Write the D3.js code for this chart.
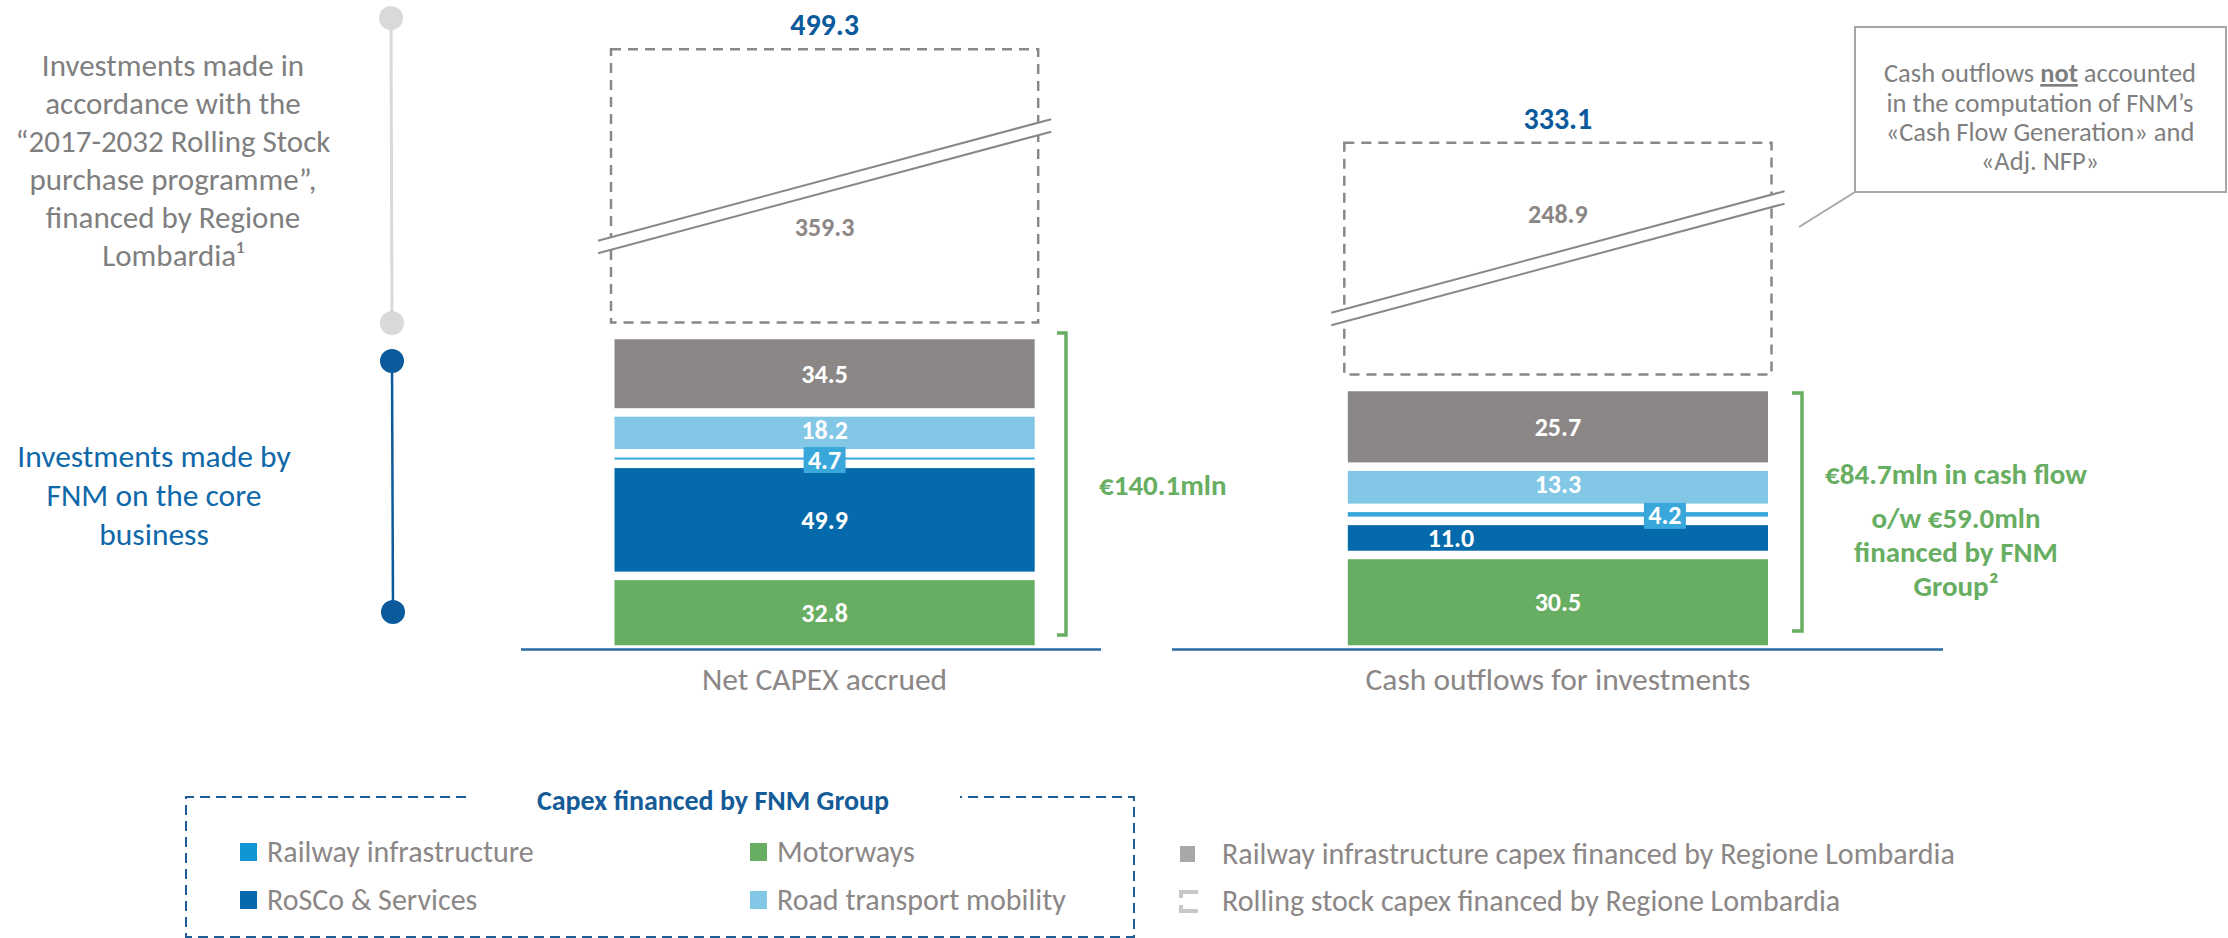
<!DOCTYPE html>
<html>
<head>
<meta charset="utf-8">
<script src="https://cdn.jsdelivr.net/npm/d3@7"></script>
<style>
body { margin: 0; background: #fff; }
svg { display: block; }
</style>
</head>
<body>
<div id="chart"></div>
<script>
// ---- data ----
var categories = ["Net CAPEX accrued", "Cash outflows for investments"];
var segmentKeys = ["Motorways", "RoSCo & Services", "Railway infrastructure",
	"Road transport mobility", "Regione railway infrastructure"];
var motorways = [32.8, 30.5];
var roscoServices = [49.9, 11.0];
var railwayInfra = [4.7, 4.2];
var roadMobility = [18.2, 13.3];
var regioneRailway = [34.5, 25.7];
var coreTotals = [140.1, 84.7];
var rollingStock = [359.3, 248.9];
var grandTotals = [499.3, 333.1];
var financedByFnm = 59.0;

var legendFnm = ["Railway infrastructure", "Motorways", "RoSCo & Services", "Road transport mobility"];
var legendRegione = ["Railway infrastructure capex financed by Regione Lombardia",
	"Rolling stock capex financed by Regione Lombardia"];

var colors = {
	"Motorways": "#67ae62",
	"RoSCo & Services": "#046aab",
	"Railway infrastructure": "#3aa7da",
	"Road transport mobility": "#82c7e6",
	"Regione railway infrastructure": "#8c8787"
};

// ---- layout ----
var W = 2228, H = 938;
var font = "Carlito, Calibri, Lato, sans-serif";
var grey = "#8c8787", greyText = "#7f7f7f", blue = "#0b5a9b", green = "#67ae62";
var baseY = 649.5;
var stackTop = [335, 387];
var gap = 8.5;
var rollTop = [49.3, 142.7];
var breakY = [240.7, 312.7];
var rollLabelY = [235.7, 223.3];
var labelShift = {"RoSCo & Services": [0, -107], "Railway infrastructure": [0, 107]};

var svg = d3.select("#chart")
	.append("svg")
	.attr("width", W)
	.attr("height", H)
	.attr("font-family", font);

var x = d3.scaleBand()
	.domain(categories)
	.range([614.5, 1768])
	.paddingInner(0.427);

var yScales = categories.map(function(c, i) {
	return d3.scaleLinear().domain([0, coreTotals[i]]).range([baseY, stackTop[i]]);
});

var rows = categories.map(function(c, i) {
	return {
		category: c,
		"Motorways": motorways[i],
		"RoSCo & Services": roscoServices[i],
		"Railway infrastructure": railwayInfra[i],
		"Road transport mobility": roadMobility[i],
		"Regione railway infrastructure": regioneRailway[i]
	};
});
var series = d3.stack().keys(segmentKeys)(rows);

// left side timeline
var tl = svg.append("g");
tl.append("line").attr("x1", 391).attr("x2", 392).attr("y1", 18).attr("y2", 323)
	.attr("stroke", "#d9d9d9").attr("stroke-width", 3);
tl.append("circle").attr("cx", 391).attr("cy", 18).attr("r", 12).attr("fill", "#d9d9d9");
tl.append("circle").attr("cx", 392).attr("cy", 323).attr("r", 12).attr("fill", "#d9d9d9");
tl.append("line").attr("x1", 392).attr("x2", 393).attr("y1", 361).attr("y2", 612)
	.attr("stroke", "#0b5a9b").attr("stroke-width", 2.5);
tl.append("circle").attr("cx", 392).attr("cy", 361).attr("r", 12).attr("fill", "#0b5a9b");
tl.append("circle").attr("cx", 393).attr("cy", 612).attr("r", 12).attr("fill", "#0b5a9b");

var greyLines = ["Investments made in", "accordance with the", "\u201c2017-2032 Rolling Stock",
	"purchase programme\u201d,", "financed by Regione", "Lombardia\u00b9"];
greyLines.forEach(function(t, i) {
	svg.append("text").attr("x", 173).attr("y", 76 + i * 38)
		.attr("text-anchor", "middle").attr("font-size", 31).attr("fill", greyText)
		.text(t);
});
var blueLines = ["Investments made by", "FNM on the core", "business"];
blueLines.forEach(function(t, i) {
	svg.append("text").attr("x", 154).attr("y", 467 + i * 39)
		.attr("text-anchor", "middle").attr("font-size", 31.5).attr("fill", "#0f68a9")
		.text(t);
});

// dashed rolling stock boxes
categories.forEach(function(c, i) {
	var bx = x(c) - 3.5, bw = x.bandwidth() + 7;
	var by = rollTop[i], bh = stackTop[i] - 12.5 - rollTop[i];
	var g = svg.append("g");
	g.append("rect").attr("x", bx).attr("y", by).attr("width", bw).attr("height", bh)
		.attr("fill", "none").attr("stroke", grey).attr("stroke-width", 2.5)
		.attr("stroke-dasharray", "10,7");
	var x0 = bx - 13, x1 = bx + bw + 13, rise = 121.5, off = 12.5;
	var y0 = breakY[i];
	g.append("polygon")
		.attr("points", [[x0, y0], [x1, y0 - rise], [x1, y0 - rise + off], [x0, y0 + off]].join(" "))
		.attr("fill", "#fff");
	[0, off].forEach(function(o) {
		g.append("line").attr("x1", x0).attr("y1", y0 + o).attr("x2", x1).attr("y2", y0 - rise + o)
			.attr("stroke", grey).attr("stroke-width", 2);
	});
	g.append("text").attr("x", x(c) + x.bandwidth() / 2).attr("y", rollLabelY[i])
		.attr("text-anchor", "middle").attr("font-size", 26).attr("font-weight", "bold")
		.attr("fill", grey).text(rollingStock[i].toFixed(1));
	g.append("text").attr("x", x(c) + x.bandwidth() / 2).attr("y", rollTop[i] - 14)
		.attr("text-anchor", "middle").attr("font-size", 30).attr("font-weight", "bold")
		.attr("fill", blue).text(grandTotals[i].toFixed(1));
});

// stacked bars
series.forEach(function(s) {
	s.forEach(function(d, i) {
		var ys = yScales[i];
		svg.append("rect")
			.attr("x", x(d.data.category))
			.attr("y", ys(d[1]) + gap / 2)
			.attr("width", x.bandwidth())
			.attr("height", Math.max(1, ys(d[0]) - ys(d[1]) - gap))
			.attr("fill", colors[s.key]);
	});
});
series.forEach(function(s) {
	s.forEach(function(d, i) {
		var ys = yScales[i];
		var shift = labelShift[s.key] ? labelShift[s.key][i] : 0;
		var cx = x(d.data.category) + x.bandwidth() / 2 + shift;
		var cy = (ys(d[0]) + ys(d[1])) / 2;
		if (s.key === "Railway infrastructure") {
			cy += 1;
			svg.append("rect").attr("x", cx - 21).attr("y", cy - 12.5)
				.attr("width", 42).attr("height", 26).attr("fill", colors[s.key]);
		}
		if (s.key === "Road transport mobility") cy -= 3;
		svg.append("text").attr("x", cx).attr("y", cy)
			.attr("dy", "0.35em")
			.attr("text-anchor", "middle").attr("font-size", 26).attr("font-weight", "bold")
			.attr("fill", "#fff").text((d[1] - d[0]).toFixed(1));
	});
});

// axis lines and category labels
[[521, 1101], [1172, 1943]].forEach(function(r) {
	svg.append("line").attr("x1", r[0]).attr("x2", r[1]).attr("y1", baseY).attr("y2", baseY)
		.attr("stroke", "#2c6aa5").attr("stroke-width", 2.5);
});
categories.forEach(function(c) {
	svg.append("text").attr("x", x(c) + x.bandwidth() / 2).attr("y", 690)
		.attr("text-anchor", "middle").attr("font-size", 31.5).attr("fill", grey).text(c);
});

// brackets
svg.append("path").attr("d", "M1057,333H1066V635H1057")
	.attr("fill", "none").attr("stroke", green).attr("stroke-width", 3.5);
svg.append("path").attr("d", "M1792,393H1802V631H1792")
	.attr("fill", "none").attr("stroke", green).attr("stroke-width", 3.5);
svg.append("text").attr("x", 1099).attr("y", 495).attr("font-size", 29)
	.attr("font-weight", "bold").attr("fill", green)
	.text("\u20ac" + coreTotals[0].toFixed(1) + "mln");
var greenLines = ["\u20ac" + coreTotals[1].toFixed(1) + "mln in cash flow",
	"o/w \u20ac" + financedByFnm.toFixed(1) + "mln", "financed by FNM", "Group\u00b2"];
[484, 528, 562, 596].forEach(function(yy, i) {
	svg.append("text").attr("x", 1956).attr("y", yy).attr("text-anchor", "middle")
		.attr("font-size", 29).attr("font-weight", "bold").attr("fill", green)
		.text(greenLines[i]);
});

// callout
svg.append("line").attr("x1", 1799).attr("y1", 227).attr("x2", 1855).attr("y2", 192)
	.attr("stroke", "#a6a6a6").attr("stroke-width", 2);
svg.append("rect").attr("x", 1855).attr("y", 27).attr("width", 371).attr("height", 165)
	.attr("fill", "#fff").attr("stroke", "#a6a6a6").attr("stroke-width", 2);
var c1 = svg.append("text").attr("x", 2040).attr("y", 82).attr("text-anchor", "middle")
	.attr("font-size", 26.5).attr("fill", greyText);
c1.append("tspan").text("Cash outflows ");
c1.append("tspan").attr("font-weight", "bold").attr("text-decoration", "underline").text("not");
c1.append("tspan").text(" accounted");
["in the computation of FNM\u2019s", "\u00abCash Flow Generation\u00bb and", "\u00abAdj. NFP\u00bb"]
	.forEach(function(t, i) {
		svg.append("text").attr("x", 2040).attr("y", 111.5 + i * 29.3).attr("text-anchor", "middle")
			.attr("font-size", 26.5).attr("fill", greyText).text(t);
	});

// legend
svg.append("path")
	.attr("d", "M466,797H186V937H1134V797H960")
	.attr("fill", "none").attr("stroke", "#1f5d96").attr("stroke-width", 2)
	.attr("stroke-dasharray", "10,6");
svg.append("text").attr("x", 713).attr("y", 810).attr("text-anchor", "middle")
	.attr("font-size", 28).attr("font-weight", "bold").attr("fill", "#155b97")
	.text("Capex financed by FNM Group");
var legPos = [[240, 862], [750, 862], [240, 910], [750, 910]];
legendFnm.forEach(function(k, i) {
	var p = legPos[i];
	svg.append("rect").attr("x", p[0]).attr("y", p[1] - 19).attr("width", 17).attr("height", 18)
		.attr("fill", k === "Railway infrastructure" ? "#0e97d3" : colors[k]);
	svg.append("text").attr("x", p[0] + 27).attr("y", p[1]).attr("font-size", 30)
		.attr("fill", grey).text(k);
});
svg.append("rect").attr("x", 1180).attr("y", 846).attr("width", 15).attr("height", 16)
	.attr("fill", "#a8a8a8");
svg.append("path").attr("d", "M1198,892H1181V898M1181,905V911H1198")
	.attr("fill", "none").attr("stroke", "#c8c8c8").attr("stroke-width", 4);
legendRegione.forEach(function(t, i) {
	svg.append("text").attr("x", 1222).attr("y", 864 + i * 47).attr("font-size", 30)
		.attr("fill", grey).text(t);
});
</script>
</body>
</html>
